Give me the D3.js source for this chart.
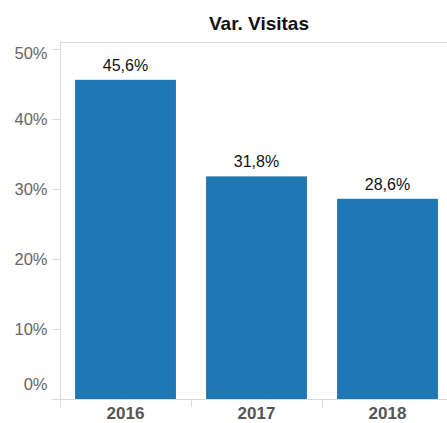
<!DOCTYPE html>
<html>
<head>
<meta charset="utf-8">
<script src="https://cdn.jsdelivr.net/npm/d3@7"></script>
<style>
  html, body { margin: 0; padding: 0; background: #fff; }
  svg { display: block; font-family: "Liberation Sans", Arial, Helvetica, sans-serif; }
</style>
</head>
<body>
<svg id="chart" width="447" height="423"></svg>
<script>
// Year-over-year change in visits
const years = ["2016", "2017", "2018"];
const variation = [45.6, 31.8, 28.6];
const yTicks = [0, 10, 20, 30, 40, 50];
const title = "Var. Visitas";

const svg = d3.select("#chart");
const W = 447, H = 423;
const plotLeft = 60, plotRight = 453, plotTop = 42, plotBottom = 399;

const x = d3.scaleBand().domain(years).range([plotLeft, plotRight]).paddingInner(0.23).paddingOuter(0.115);
const xCell = d3.scaleBand().domain(years).range([plotLeft, plotRight]).padding(0);
const y = d3.scaleLinear().domain([0, 51]).range([plotBottom, plotTop]);

const fmt = v => d3.format(".1f")(v).replace(".", ",") + "%";

// frame: top rule
svg.append("line").attr("x1", plotLeft).attr("x2", W).attr("y1", plotTop + 0.5).attr("y2", plotTop + 0.5)
  .attr("stroke", "#d9d9d9").attr("stroke-width", 1);

// title
svg.append("text").attr("x", 259).attr("y", 30).attr("text-anchor", "middle")
  .attr("font-size", 19).attr("font-weight", "bold").attr("fill", "#111").text(title);

// bars
svg.append("g").selectAll("rect").data(years).join("rect")
  .attr("x", d => x(d))
  .attr("width", x.bandwidth())
  .attr("y", (d, i) => y(variation[i]))
  .attr("height", (d, i) => y(0) - y(variation[i]))
  .attr("fill", "#1f77b4");

// value labels
svg.append("g").selectAll("text").data(years).join("text")
  .attr("x", d => x(d) + x.bandwidth() / 2)
  .attr("y", (d, i) => y(variation[i]) - 9)
  .attr("text-anchor", "middle")
  .attr("font-size", 16).attr("fill", "#111")
  .text((d, i) => fmt(variation[i]));

// y axis; the end labels are kept inside the plot frame
const yAxis = d3.axisLeft(y).tickValues(yTicks).tickSize(8).tickPadding(5).tickFormat(d => d + "%");
const gy = svg.append("g").attr("transform", `translate(${plotLeft + 0.5},0)`).call(yAxis);
gy.select(".domain").remove();
gy.append("line").attr("x1", 0).attr("x2", 0).attr("y1", plotTop).attr("y2", plotBottom + 8)
  .attr("stroke", "#d9d9d9");
gy.selectAll(".tick line").attr("stroke", "#d9d9d9");
gy.selectAll(".tick text").attr("font-size", 16.5).attr("fill", "#666")
  .attr("font-family", "'Liberation Sans', Arial, sans-serif")
  .attr("dy", d => d === 0 ? "-0.6em" : d === 50 ? "0.55em" : "0.32em");

// x axis baseline and category dividers
svg.append("line").attr("x1", plotLeft - 8).attr("x2", W).attr("y1", plotBottom + 0.5).attr("y2", plotBottom + 0.5)
  .attr("stroke", "#d9d9d9");
svg.append("g").selectAll("line").data(years).join("line")
  .attr("x1", d => xCell(d) + 0.5).attr("x2", d => xCell(d) + 0.5)
  .attr("y1", plotBottom).attr("y2", plotBottom + 8)
  .attr("stroke", "#d9d9d9");
svg.append("g").selectAll("text").data(years).join("text")
  .attr("x", d => x(d) + x.bandwidth() / 2)
  .attr("y", 419)
  .attr("text-anchor", "middle")
  .attr("font-size", 17).attr("font-weight", "bold").attr("fill", "#555")
  .text(d => d);
</script>
</body>
</html>
